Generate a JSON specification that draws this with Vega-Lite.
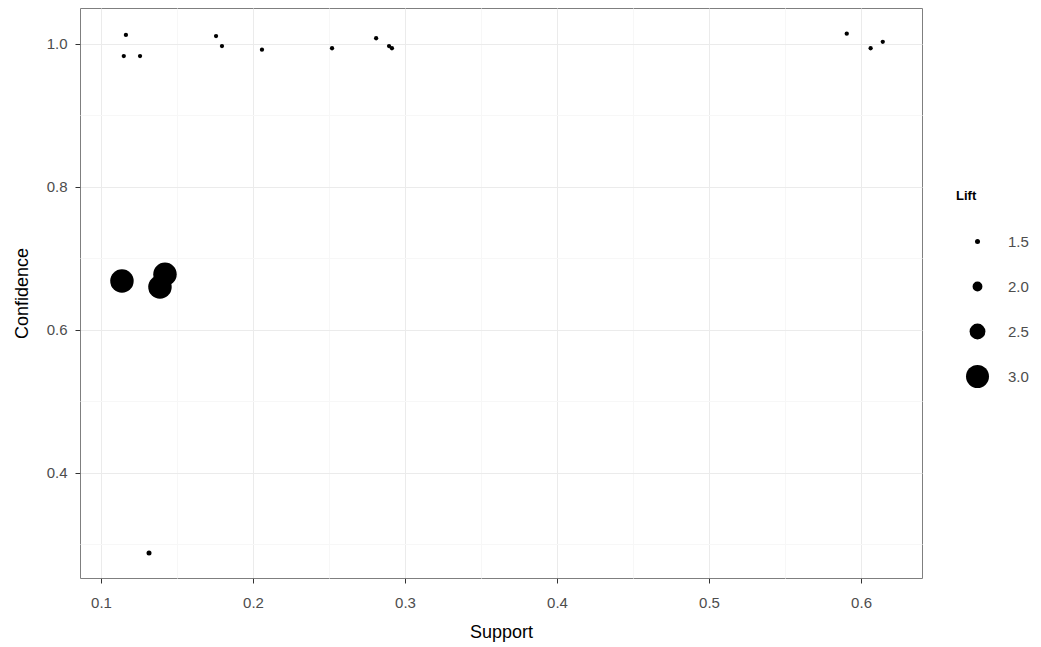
{
  "$schema": "https://vega.github.io/schema/vega-lite/v6.json",
  "width": 842,
  "height": 570,
  "autosize": {"type": "none"},
  "padding": {"left": 80, "top": 8, "right": 119, "bottom": 69},
  "background": "white",
  "config": {
    "font": "Liberation Sans",
    "view": {"stroke": "#7f7f7f", "strokeWidth": 1}
  },
  "data": {
    "values": [
      {"support": 0.1164, "confidence": 1.0126, "lift": 1.42},
      {"support": 0.115, "confidence": 0.983, "lift": 1.42},
      {"support": 0.1257, "confidence": 0.983, "lift": 1.42},
      {"support": 0.1757, "confidence": 1.011, "lift": 1.42},
      {"support": 0.1796, "confidence": 0.997, "lift": 1.42},
      {"support": 0.2059, "confidence": 0.992, "lift": 1.42},
      {"support": 0.252, "confidence": 0.994, "lift": 1.42},
      {"support": 0.281, "confidence": 1.008, "lift": 1.42},
      {"support": 0.2895, "confidence": 0.997, "lift": 1.42},
      {"support": 0.2914, "confidence": 0.994, "lift": 1.42},
      {"support": 0.5906, "confidence": 1.0144, "lift": 1.42},
      {"support": 0.6063, "confidence": 0.994, "lift": 1.42},
      {"support": 0.6143, "confidence": 1.003, "lift": 1.42},
      {"support": 0.1138, "confidence": 0.6685, "lift": 3.03},
      {"support": 0.1388, "confidence": 0.66, "lift": 3.03},
      {"support": 0.1421, "confidence": 0.678, "lift": 3.03},
      {"support": 0.1316, "confidence": 0.288, "lift": 1.5}
    ]
  },
  "mark": {"type": "point", "shape": "circle", "filled": true, "color": "black", "opacity": 1, "strokeWidth": 0},
  "encoding": {
    "x": {
      "field": "support",
      "type": "quantitative",
      "title": "Support",
      "scale": {"domain": [0.0862, 0.6401], "zero": false, "nice": false},
      "axis": {
        "values": [0.1, 0.15, 0.2, 0.25, 0.3, 0.35, 0.4, 0.45, 0.5, 0.55, 0.6],
        "labelExpr": "abs(datum.value*10 - round(datum.value*10)) < 0.001 ? format(datum.value, '.1f') : ''",
        "grid": true,
        "gridColor": {"condition": {"test": "abs(datum.value*10 - round(datum.value*10)) < 0.001", "value": "#ebebeb"}, "value": "#f7f7f7"},
        "gridWidth": 1,
        "tickColor": {"condition": {"test": "abs(datum.value*10 - round(datum.value*10)) < 0.001", "value": "#333333"}, "value": "transparent"},
        "tickSize": 5,
        "tickWidth": 1,
        "domain": false,
        "labelColor": "#4d4d4d",
        "labelFontSize": 15,
        "labelPadding": 12,
        "titleFontSize": 18,
        "titleFontWeight": "normal",
        "titleColor": "black",
        "titlePadding": 13
      }
    },
    "y": {
      "field": "confidence",
      "type": "quantitative",
      "title": "Confidence",
      "scale": {"domain": [0.2531, 1.0503], "zero": false, "nice": false},
      "axis": {
        "values": [0.3, 0.4, 0.5, 0.6, 0.7, 0.8, 0.9, 1.0],
        "labelExpr": "abs(datum.value*5 - round(datum.value*5)) < 0.001 ? format(datum.value, '.1f') : ''",
        "grid": true,
        "gridColor": {"condition": {"test": "abs(datum.value*5 - round(datum.value*5)) < 0.001", "value": "#ebebeb"}, "value": "#f7f7f7"},
        "gridWidth": 1,
        "tickColor": {"condition": {"test": "abs(datum.value*5 - round(datum.value*5)) < 0.001", "value": "#333333"}, "value": "transparent"},
        "tickSize": 5,
        "tickWidth": 1,
        "domain": false,
        "labelColor": "#4d4d4d",
        "labelFontSize": 15,
        "labelPadding": 8,
        "titleFontSize": 18,
        "titleFontWeight": "normal",
        "titleColor": "black",
        "titlePadding": 15
      }
    },
    "size": {
      "field": "lift",
      "type": "quantitative",
      "title": "Lift",
      "scale": {"type": "pow", "exponent": 4, "domain": [1.5, 3.0], "range": [25, 529], "zero": false, "clamp": false},
      "legend": {
        "values": [1.5, 2.0, 2.5, 3.0],
        "format": ".1f",
        "orient": "none",
        "legendX": 876,
        "legendY": 182,
        "titleFontSize": 13,
        "titleFontWeight": "bold",
        "titleColor": "black",
        "titlePadding": 27,
        "labelFontSize": 15,
        "labelColor": "#4d4d4d",
        "labelOffset": 19,
        "symbolFillColor": "black",
        "symbolStrokeWidth": 0,
        "symbolType": "circle",
        "clipHeight": 23,
        "rowPadding": 22,
        "symbolOffset": 10
      }
    }
  }
}
